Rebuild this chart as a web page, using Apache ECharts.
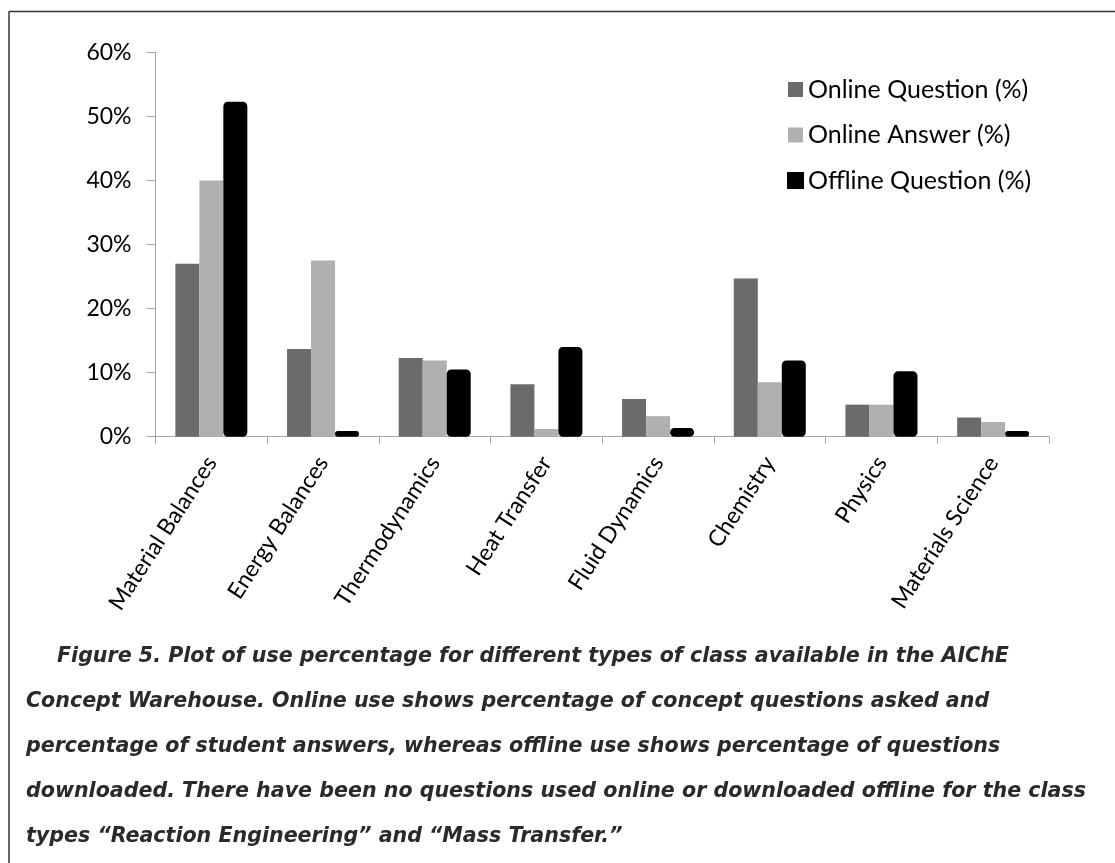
<!DOCTYPE html>
<html>
<head>
<meta charset="utf-8">
<script src="https://cdn.jsdelivr.net/npm/echarts@6/dist/echarts.min.js"></script>
<style>
  html, body { margin: 0; padding: 0; background: #fff; }
  #chart { width: 1115px; height: 863px; }
</style>
</head>
<body>
<div id="chart"></div>
<script>
const categories = ['Material Balances', 'Energy Balances', 'Thermodynamics', 'Heat Transfer',
  'Fluid Dynamics', 'Chemistry', 'Physics', 'Materials Science'];
const seriesNames = ['Online Question (%)', 'Online Answer (%)', 'Offline Question (%)'];
const onlineQuestion = [27.0, 13.7, 12.3, 8.2, 5.9, 24.7, 5.0, 3.0];
const onlineAnswer   = [40.0, 27.5, 11.9, 1.2, 3.2, 8.5, 5.0, 2.3];
const offlineQuestion = [52.3, 0.9, 10.5, 14.0, 1.35, 11.9, 10.2, 0.9];
const yTicks = { min: 0, max: 60, interval: 10 };
const captionLines = [
  'Figure 5. Plot of use percentage for different types of class available in the AIChE',
  'Concept Warehouse. Online use shows percentage of concept questions asked and',
  'percentage of student answers, whereas offline use shows percentage of questions',
  'downloaded. There have been no questions used online or downloaded offline for the class',
  'types \u201CReaction Engineering\u201D and \u201CMass Transfer.\u201D'
];

const chart = echarts.init(document.getElementById('chart'), null, { renderer: 'canvas' });
const labelFont = 'Lato';
const captionFont = '"DejaVu Sans"';
const captionGraphics = captionLines.map((t, i) => ({
  type: 'text',
  left: i === 0 ? 57 : 26,
  top: 646 + i * 45,
  silent: true,
  style: {
    text: t,
    font: 'italic bold 20.6px ' + captionFont,
    fill: '#2a2a2a'
  }
}));

const option = {
  animation: false,
  backgroundColor: '#ffffff',
  grid: { left: 155.5, right: 66, top: 52.3, bottom: 426.3, containLabel: false },
  legend: {
    orient: 'vertical',
    left: 782,
    top: 72,
    itemWidth: 15,
    itemHeight: 15,
    itemGap: 20.5,
    icon: 'rect',
    textStyle: { fontFamily: labelFont, fontSize: 25, color: '#000' },
    data: seriesNames
  },
  xAxis: {
    type: 'category',
    data: categories,
    boundaryGap: true,
    axisLine: { show: true, lineStyle: { color: '#a6a6a6', width: 1 } },
    axisTick: { show: true, length: 7, lineStyle: { color: '#a6a6a6' } },
    axisLabel: {
      rotate: 57,
      margin: 22,
      fontFamily: labelFont,
      fontSize: 23,
      color: '#000',
      interval: 0
    }
  },
  yAxis: {
    type: 'value',
    min: yTicks.min,
    max: yTicks.max,
    interval: yTicks.interval,
    axisLine: { show: true, lineStyle: { color: '#a6a6a6', width: 1 } },
    axisTick: { show: true, length: 9, lineStyle: { color: '#a6a6a6' } },
    splitLine: { show: false },
    axisLabel: {
      formatter: '{value}%',
      margin: 24,
      fontFamily: labelFont,
      fontSize: 23,
      color: '#000'
    }
  },
  series: [
    {
      name: seriesNames[0], type: 'bar', data: onlineQuestion,
      barWidth: 24, barGap: '0%',
      itemStyle: { color: '#6b6b6b' }
    },
    {
      name: seriesNames[1], type: 'bar', data: onlineAnswer,
      barWidth: 24, barGap: '0%',
      itemStyle: { color: '#b0b0b0' }
    },
    {
      name: seriesNames[2], type: 'bar', data: offlineQuestion,
      barWidth: 24, barGap: '0%',
      itemStyle: { color: '#000000', borderColor: '#000000', borderWidth: 3, borderRadius: 3 }
    }
  ],
  graphic: [
    { type: 'line', silent: true, shape: { x1: 9, y1: 11.5, x2: 1115, y2: 11.5 }, style: { stroke: '#333', lineWidth: 1.5 } },
    { type: 'line', silent: true, shape: { x1: 9, y1: 11.5, x2: 9, y2: 863 }, style: { stroke: '#333', lineWidth: 1.5 } }
  ].concat(captionGraphics)
};
chart.setOption(option);
</script>
</body>
</html>
